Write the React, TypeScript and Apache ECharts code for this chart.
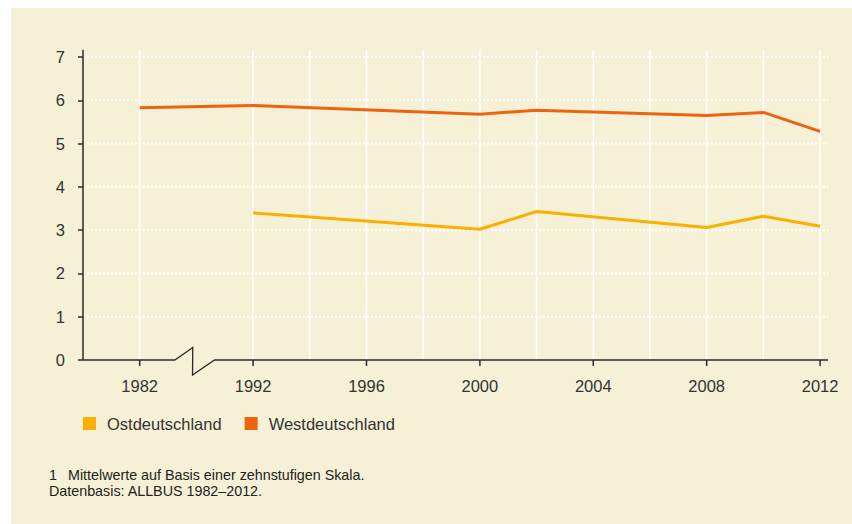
import React, { useEffect, useRef } from "react";
import * as echarts from "echarts";

// ---- data ----
const surveyYears = [1982, 1992, 2000, 2002, 2008, 2010, 2012];
const ostValues: (number | null)[] = [null, 3.4, 3.02, 3.43, 3.06, 3.32, 3.09];
const westValues: (number | null)[] = [5.83, 5.88, 5.68, 5.77, 5.65, 5.72, 5.28];
const gridYears = [1982, 1992, 1994, 1996, 1998, 2000, 2002, 2004, 2006, 2008, 2010, 2012];
const labelYears = [1982, 1992, 1996, 2000, 2004, 2008, 2012];
const yTickValues = [0, 1, 2, 3, 4, 5, 6, 7];
const seriesNames = ["Ostdeutschland", "Westdeutschland"];
const footnoteNumber = "1";
const footnoteText = "Mittelwerte auf Basis einer zehnstufigen Skala.";
const sourceText = "Datenbasis: ALLBUS 1982\u20132012.";

// ---- style ----
const FONT = '"Liberation Sans", Arial, Helvetica, sans-serif';
const TEXT = "#333333";
const AXIS = "#2a2a2a";
const BG = "#f6f1d6";
const OST_COLOR = "#f9b000";
const WEST_COLOR = "#ec6410";

// axis break: years before 1992 are shifted so that 1982 sits one label step before 1992
const BREAK_AT = 1992;
const BREAK_SKIP = 6;
const toAxis = (year: number) => (year < BREAK_AT ? year + BREAK_SKIP : year);

const X_MIN = 1986;
const X_MAX = 2012.28;

export default function App() {
  const ref = useRef<HTMLDivElement>(null);

  useEffect(() => {
    if (!ref.current) return;
    const chart = echarts.init(ref.current, null, { renderer: "svg" });
    const labelMap = new Map<number, string>(labelYears.map((y) => [toAxis(y), String(y)]));

    const toSeries = (vals: (number | null)[]) =>
      surveyYears
        .map((y, i) => (vals[i] == null ? null : [toAxis(y), vals[i] as number]))
        .filter((d) => d !== null);

    chart.setOption({
      animation: false,
      backgroundColor: "transparent",
      grid: { left: 83, right: 24, top: 57, bottom: 164, containLabel: false, outerBoundsMode: "none" },
      xAxis: {
        type: "value",
        min: X_MIN,
        max: X_MAX,
        interval: 2,
        axisLine: { show: false },
        axisTick: { show: false },
        splitLine: { show: false },
        axisLabel: {
          formatter: (v: number) => labelMap.get(v) ?? "",
          color: TEXT,
          fontSize: 16.5,
          fontFamily: FONT,
          margin: 17,
          showMaxLabel: false,
          showMinLabel: false,
        },
      },
      yAxis: {
        type: "value",
        min: 0,
        max: 7,
        interval: 1,
        axisLine: { show: false },
        axisTick: { show: true, length: 5, lineStyle: { color: AXIS, width: 1.5 } },
        splitLine: { show: false },
        axisLabel: { color: TEXT, fontSize: 16.5, fontFamily: FONT, margin: 18 },
      },
      legend: {
        left: 78,
        top: 410,
        icon: "rect",
        itemWidth: 13,
        itemHeight: 13,
        itemGap: 23,
        data: seriesNames,
        textStyle: { color: TEXT, fontSize: 16.5, fontFamily: FONT, padding: [0, 0, 0, 6] },
      },
      series: [
        {
          name: seriesNames[0],
          type: "line",
          data: toSeries(ostValues),
          symbol: "none",
          color: OST_COLOR,
          lineStyle: { color: OST_COLOR, width: 3 },
          z: 5,
        },
        {
          name: seriesNames[1],
          type: "line",
          data: toSeries(westValues),
          symbol: "none",
          color: WEST_COLOR,
          lineStyle: { color: WEST_COLOR, width: 3 },
          z: 5,
        },
      ],
    });

    const px = (year: number) => chart.convertToPixel({ xAxisIndex: 0 }, toAxis(year)) as number;
    const pxRaw = (v: number) => chart.convertToPixel({ xAxisIndex: 0 }, v) as number;
    const py = (v: number) => chart.convertToPixel({ yAxisIndex: 0 }, v) as number;

    const x0 = pxRaw(X_MIN);
    const xEnd = pxRaw(X_MAX);
    const y0 = py(0);
    const yTop = py(7.17);
    const elements: any[] = [];

    gridYears.forEach((yr) => {
      const x = px(yr);
      elements.push({
        type: "line",
        z: 1,
        silent: true,
        shape: { x1: x, y1: y0, x2: x, y2: yTop },
        style: { stroke: "#ffffff", lineWidth: 1.5 },
      });
    });
    yTickValues.slice(1).forEach((v) => {
      const y = py(v);
      elements.push({
        type: "line",
        z: 1,
        silent: true,
        shape: { x1: x0 + 4, y1: y, x2: xEnd, y2: y },
        style: { stroke: "#ffffff", lineWidth: 2, lineDash: [2, 2] },
      });
    });
    // y axis line
    elements.push({
      type: "line",
      z: 6,
      silent: true,
      shape: { x1: x0, y1: y0, x2: x0, y2: yTop },
      style: { stroke: AXIS, lineWidth: 1.5 },
    });
    // x axis line with break zigzag between 1982 and 1992
    const xa = px(1982);
    const xb = px(1992);
    const d = xb - xa;
    elements.push({
      type: "polyline",
      z: 6,
      silent: true,
      shape: {
        points: [
          [x0, y0],
          [xa + d * 0.31, y0],
          [xa + d * 0.468, y0 - 12.5],
          [xa + d * 0.466, y0 + 15],
          [xa + d * 0.66, y0],
          [xEnd, y0],
        ],
      },
      style: { stroke: AXIS, lineWidth: 1.3, fill: null },
    });
    labelYears.forEach((yr) => {
      const x = px(yr);
      elements.push({
        type: "line",
        z: 6,
        silent: true,
        shape: { x1: x, y1: y0, x2: x, y2: y0 + 6 },
        style: { stroke: AXIS, lineWidth: 1.5 },
      });
    });
    // footnote
    elements.push({
      type: "text",
      z: 6,
      x: 49,
      y: 475,
      style: { text: footnoteNumber, fill: "#222", fontSize: 14.3, fontFamily: FONT, verticalAlign: "middle" },
    });
    elements.push({
      type: "text",
      z: 6,
      x: 68,
      y: 475,
      style: { text: footnoteText, fill: "#222", fontSize: 14.3, fontFamily: FONT, verticalAlign: "middle" },
    });
    elements.push({
      type: "text",
      z: 6,
      x: 49,
      y: 491,
      style: { text: sourceText, fill: "#222", fontSize: 14.3, fontFamily: FONT, verticalAlign: "middle" },
    });

    chart.setOption({ graphic: { elements } });

    return () => chart.dispose();
  }, []);

  return (
    <div style={{ position: "fixed", left: 0, top: 0, width: 852, height: 524, background: "#ffffff" }}>
      <div style={{ position: "absolute", left: 11, top: 8, right: 0, bottom: 0, background: BG }} />
      <div ref={ref} style={{ position: "absolute", left: 0, top: 0, width: 852, height: 524 }} />
    </div>
  );
}
